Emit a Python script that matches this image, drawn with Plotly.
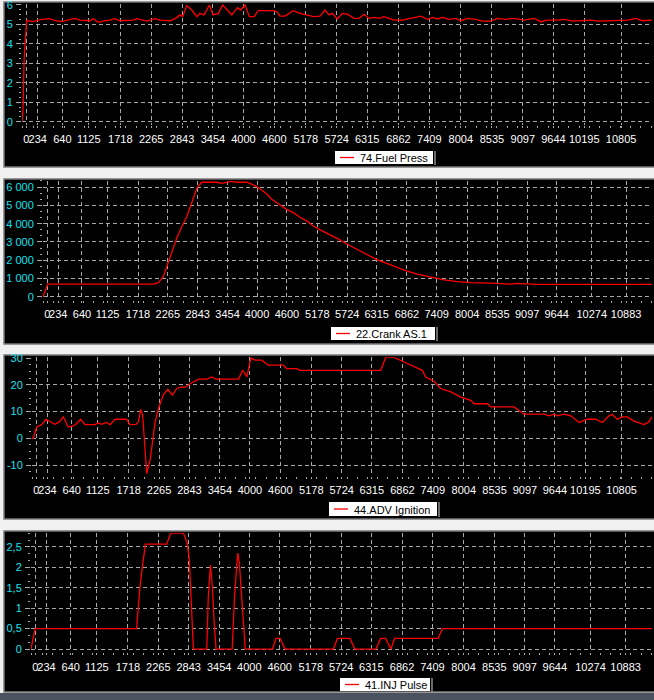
import plotly.graph_objects as go

W, H = 654, 700

# x axis is the record number, tick labels show elapsed time (ms)
tick_pos_a = [1.4, 5.0, 12.8, 21.2, 31.2, 41.0, 50.8, 60.6, 70.3, 80.1, 90.1,
              99.9, 109.6, 119.5, 129.3, 139.3, 149.2, 159.0, 168.7, 178.5, 190.2]
tick_pos_b = tick_pos_a[:-2] + [180.2, 191.5]
tick_txt_a = ["0", "234", "640", "1125", "1718", "2265", "2843", "3454", "4000", "4600",
              "5178", "5724", "6315", "6862", "7409", "8004", "8535", "9097", "9644",
              "10195", "10805"]
tick_txt_b = tick_txt_a[:-2] + ["10274", "10883"]

# 74.Fuel Press
fuel_x = [0, 0.3, 0.7, 1.1, 1.5, 3.6, 6.2, 8.9, 10.5, 12.6, 14.7, 16.8, 18.4, 21.6, 22.6,
          24.2, 26.4, 27.9, 29.5, 31.1, 35.3, 36.4, 39.6, 42.2, 43.8, 45.9, 47, 48.6, 50.2,
          51, 52.3, 53.9, 55.5, 56.5, 57.8, 59.5, 60.7, 62.3, 63.7, 66.6, 68.4, 69.4, 70.8,
          72.2, 73.7, 75, 79.8, 80.9, 81.9, 83.5, 86.1, 88.3, 90.4, 92.5, 94.6, 96.2, 97.5,
          98.5, 100.1, 101.7, 103.3, 105.4, 107, 108.6, 110.2, 111.8, 113.4, 114.9, 116.5,
          118.1, 120.8, 123.4, 126.6, 128.7, 130.3, 131.9, 133.4, 135.6, 137.7, 139.3, 141.4,
          144, 146.2, 148.8, 150.9, 153.6, 156.2, 159.4, 162.6, 164.7, 166.8, 170, 172.1,
          174.7, 177.9, 180.6, 182.7, 188, 192.2, 194.9, 197, 200]
fuel_y = [0, 0.6, 3.3, 4.6, 5.2, 5.14, 5.26, 5.3, 5.19, 5.15, 5.22, 5.31, 5.22, 5.19, 5.3,
          5.11, 5.19, 5.22, 5.3, 5.19, 5.22, 5.3, 5.17, 5.3, 5.22, 5.22, 5.19, 5.3, 5.49,
          5.4, 5.97, 5.74, 5.4, 5.57, 5.49, 6.0, 5.49, 5.57, 6.0, 5.49, 5.86, 5.74, 6.0,
          5.4, 5.4, 5.71, 5.71, 5.66, 5.43, 5.43, 5.71, 5.57, 5.49, 5.4, 5.43, 5.74, 5.49,
          5.57, 5.28, 5.57, 5.53, 5.31, 5.31, 5.52, 5.31, 5.36, 5.31, 5.4, 5.31,
          5.22, 5.22, 5.31, 5.43, 5.26, 5.36, 5.28, 5.36, 5.26, 5.31, 5.19, 5.31,
          5.26, 5.17, 5.17, 5.31, 5.26, 5.31, 5.22, 5.31, 5.14, 5.22, 5.22, 5.26,
          5.17, 5.19, 5.22, 5.17, 5.19, 5.22, 5.31, 5.19, 5.22]

# 22.Crank AS.1
crank_x = [0, 1.5, 36.2, 37.9, 39.5, 40.6, 42.3, 43.9, 45.5, 47.2, 48.8, 50.5, 52.1, 57,
           58.7, 60.3, 61.9, 63.6, 66.9, 68.5, 70.2, 71.8, 73.5, 75.1, 76.7, 78.4, 80, 82.2,
           84.4, 86.6, 88.8, 91, 94.3, 96.6, 101, 105.4, 109.8, 114.2, 118.6, 122.9, 127.3,
           131.7, 136.1, 140.5, 147, 153.6, 155.5, 158, 162.3, 200]
crank_y = [0, 700, 700, 780, 1110, 1650, 2380, 3200, 3800, 4380, 5110, 5930, 6260, 6260,
           6200, 6260, 6310, 6260, 6260, 6160, 6020, 5840, 5620, 5330, 5150, 4960, 4780, 4600,
           4350, 4150, 3870, 3660, 3400, 3200, 2780, 2380, 2020, 1750, 1470, 1250, 1070,
           930, 840, 780, 750, 700, 740, 720, 690, 690]

# 44.ADV Ignition
adv_x = [0, 0.4, 1.5, 3.1, 4.5, 6.4, 7.4, 8.8, 10.1, 11.7, 13.3, 14.4, 15.7, 17.1, 20.3,
         21.4, 22.5, 23.9, 25.2, 26.8, 30.5, 31.6, 33.6, 34.3, 35.1, 35.7, 36.2, 37, 38.1,
         38.9, 39.7, 40.8, 42.4, 43.8, 45.3, 46.7, 48.3, 49.4, 51, 53.7, 56.4, 58, 59.4,
         66.6, 68, 69.3, 70.6, 71.9, 74.1, 76.2, 81.1, 82.2, 85.4, 86.5, 112.5, 114.1,
         116.8, 120, 123.2, 125.9, 127, 129.7, 131.8, 135.1, 138.3, 141.5, 142.6, 146.9,
         148, 155.5, 158.7, 165.2, 166.8, 168.4, 169.5, 171.6, 173.8, 176.5, 179.1, 181.8,
         184, 186.1, 187.2, 188.8, 190.4, 192, 194.2, 197.4, 199, 200]
adv_y = [0, 0, 4.2, 5.1, 7.1, 5.9, 5.2, 6.1, 8.0, 4.2, 4.6, 5.5, 7.1, 5.1, 5.1,
         5.7, 5.2, 5.9, 5.1, 7.1, 7.1, 5.1, 5.2, 6.1, 10.8, 8.6, 0, -13.2, -8.2,
         -1.4, 5.9, 11.1, 16.3, 18.3, 16.1, 18.6, 19.2, 19, 20.4, 22.1, 22.1, 22.9, 22.1,
         22.1, 25.4, 22.9, 30, 29.2, 29.2, 27.3, 27.3, 26, 26, 25.4, 25.4, 30.2,
         30.2, 28.5, 26.7, 25.4, 22.9, 21.3, 18.6, 17.3, 15.4, 14.2, 12.9, 12.9,
         11.7, 11.7, 9, 9, 8.4, 9, 8.4, 9, 8.4, 5.9, 7.1, 7.1,
         5.9, 8.4, 8.9, 7.1, 8, 8, 6.4, 5.1, 6.1, 8]

# 41.INJ Pulse
inj_x = [0, 1.3, 34, 35.1, 36, 36.9, 43.7, 45, 49.1, 50.3, 51, 51.5, 52.3, 56.6, 57.1,
         57.8, 58.4, 59, 59.6, 64.8, 65.5, 66.3, 66.6, 67.1, 68, 68.4, 69, 77.8, 78.9, 80.2,
         81.8, 97.4, 98.7, 102.7, 104.3, 111.1, 112.6, 114.2, 115.9, 117.1, 131.1, 132.5, 200]
inj_y = [0, 0.5, 0.5, 1.53, 2.1, 2.57, 2.57, 2.84, 2.84, 2.6, 2.18, 1.28, 0, 0, 1.28,
         2.06, 1.53, 0.63, 0, 0, 1.2, 2.1, 2.35, 2.1, 1.2, 0.7, 0, 0, 0.26, 0.26,
         0, 0, 0.26, 0.26, 0, 0, 0.26, 0.26, 0, 0.26, 0.26, 0.5, 0.5]

fuel_yticks = [0, 1, 2, 3, 4, 5, 6]
fuel_ytext = ["0", "1", "2", "3", "4", "5", "6"]
crank_yticks = [0, 1000, 2000, 3000, 4000, 5000, 6000]
crank_ytext = ["0", "1 000", "2 000", "3 000", "4 000", "5 000", "6 000"]
adv_yticks = [-10, 0, 10, 20, 30]
adv_ytext = ["-10", "0", "10", "20", "30"]
inj_yticks = [0, 0.5, 1, 1.5, 2, 2.5]
inj_ytext = ["0", "0,5", "1", "1,5", "2", "2,5"]


def fx(px):
    return px / W


def fy(py):
    return 1 - py / H


# plot area / panel box / legend box in screen pixels
panels = [
    dict(name="74.Fuel Press", x=fuel_x, y=fuel_y, left=22, top=4, bottom=124.6,
         yr=[-0.15, 6.05], yt=fuel_yticks, ytt=fuel_ytext, minor=0.25,
         xt=tick_pos_a, xtt=tick_txt_a, box=(2, 167), leg=(335, 151, 433, 164)),
    dict(name="22.Crank AS.1", x=crank_x, y=crank_y, left=43, top=180.6, bottom=299.7,
         yr=[-150, 6350], yt=crank_yticks, ytt=crank_ytext, minor=1000 / 3,
         xt=tick_pos_b, xtt=tick_txt_b, box=(179, 344), leg=(331, 327, 435, 340)),
    dict(name="44.ADV Ignition", x=adv_x, y=adv_y, left=32, top=357.2, bottom=475.7,
         yr=[-14, 30.3], yt=adv_yticks, ytt=adv_ytext, minor=2.5,
         xt=tick_pos_a, xtt=tick_txt_a, box=(355, 519), leg=(329, 502, 437, 516)),
    dict(name="41.INJ Pulse", x=inj_x, y=inj_y, left=31, top=532.7, bottom=652.3,
         yr=[-0.08, 2.85], yt=inj_yticks, ytt=inj_ytext, minor=0.5 / 3,
         xt=tick_pos_b, xtt=tick_txt_b, box=(531, 692), leg=(340, 678, 430, 691)),
]

fig = go.Figure()
shapes = []
annotations = []
grid = "#a8a8a8"
font = "Liberation Sans, Arial, sans-serif"

for i, p in enumerate(panels):
    n = "" if i == 0 else str(i + 1)
    fig.add_trace(go.Scatter(x=p["x"], y=p["y"], mode="lines", name=p["name"],
                             line=dict(color="#ff0000", width=1.3),
                             xaxis="x" + n, yaxis="y" + n, showlegend=False))
    fig.layout["xaxis" + n] = dict(
        domain=[fx(p["left"]), fx(652)], range=[0, 200], anchor="y" + n,
        automargin=False, tickangle=0, ticklabeloverflow="allow",
        tickmode="array", tickvals=p["xt"], ticktext=p["xtt"],
        showgrid=True, gridcolor=grid, griddash="4px,3px", gridwidth=1,
        zeroline=False, showline=False,
        ticks="outside", ticklen=2, tickcolor=grid, ticklabelstandoff=2,
        tickfont=dict(color="white", size=11, family=font),
        minor=dict(ticks="outside", ticklen=2, tickcolor=grid, dtick=3.27, tick0=0.3),
    )
    fig.layout["yaxis" + n] = dict(
        domain=[fy(p["bottom"]), fy(p["top"])], range=p["yr"], anchor="x" + n,
        automargin=False, ticklabeloverflow="allow",
        tickmode="array", tickvals=p["yt"], ticktext=p["ytt"],
        showgrid=True, gridcolor=grid, griddash="4px,3px", gridwidth=1,
        zeroline=False, showline=False,
        ticks="outside", ticklen=5, tickcolor=grid, ticklabelstandoff=1,
        tickfont=dict(color="#19e0ee", size=11, family=font),
        minor=dict(ticks="outside", ticklen=2, tickcolor=grid, dtick=p["minor"], tick0=0),
    )
    # black panel with grey frame
    shapes.append(dict(type="rect", xref="paper", yref="paper", layer="below",
                       x0=fx(4), x1=fx(660), y0=fy(p["box"][1]), y1=fy(p["box"][0]),
                       fillcolor="black", line=dict(color="#7a7a7a", width=1.5)))
    # legend box
    l, t, r, b = p["leg"]
    shapes.append(dict(type="rect", xref="paper", yref="paper",
                       x0=fx(l), x1=fx(r), y0=fy(b), y1=fy(t),
                       fillcolor="white", line=dict(width=0)))
    shapes.append(dict(type="line", xref="paper", yref="paper",
                       x0=fx(r + 2), x1=fx(r + 2), y0=fy(b + 1), y1=fy(t),
                       line=dict(color="#8c8c8c", width=1.5)))
    shapes.append(dict(type="line", xref="paper", yref="paper",
                       x0=fx(l + 5), x1=fx(l + 19), y0=fy((t + b) / 2), y1=fy((t + b) / 2),
                       line=dict(color="#ff0000", width=1.3)))
    annotations.append(dict(xref="paper", yref="paper", x=fx(l + 23), y=fy((t + b) / 2 + 0.5),
                            xanchor="left", yanchor="middle", showarrow=False,
                            text=p["name"], font=dict(color="black", size=11, family=font)))

# taskbar strip at the bottom of the screenshot
shapes.append(dict(type="rect", xref="paper", yref="paper", x0=0, x1=1,
                   y0=0, y1=fy(693), fillcolor="#4a5260", line=dict(width=0)))

fig.update_layout(
    width=W, height=H, margin=dict(l=0, r=0, t=0, b=0),
    paper_bgcolor="#f0f0f0", plot_bgcolor="black",
    shapes=shapes, annotations=annotations, showlegend=False,
    font=dict(family=font, size=11),
)

# drop the browser's default 8px body margin so the figure fills the window
fig.write_html("out.html", config={"displayModeBar": False},
               post_script="document.body.style.margin='0';")
